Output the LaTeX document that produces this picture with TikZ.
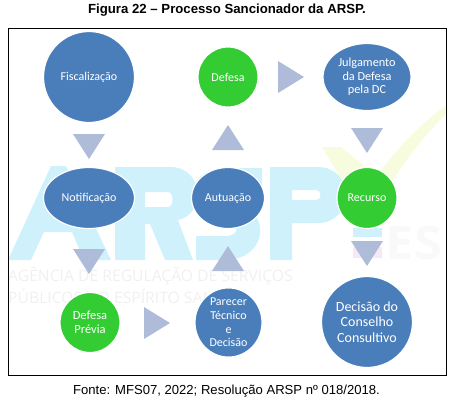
\documentclass[tikz,border=0pt]{standalone}
\usepackage{fontspec}
\setmainfont{Liberation Sans}
\newfontfamily\lbl{Carlito}
\definecolor{nodeblue}{HTML}{4A7EBB}
\definecolor{nodegreen}{HTML}{33CC33}
\definecolor{tri}{HTML}{AEBCDA}
\definecolor{wblue}{HTML}{CFF1FC}
\definecolor{wgrey}{HTML}{F0F0F0}
\definecolor{wyel}{HTML}{F8FCDF}
\definecolor{wpink}{HTML}{F8E8F5}
\definecolor{wes}{HTML}{F9F9F9}
\tikzset{
 bub/.style={ellipse,draw=white,line width=1.2pt,text=white,align=center,inner sep=0pt,font=\lbl\fontsize{12}{13.5}\selectfont},
 bluebub/.style={bub,fill=nodeblue},
 greenbub/.style={bub,fill=nodegreen},
 arrowtri/.style={fill=tri,draw=none},
 wm/.style={fill=wblue,draw=none},
 wmtext/.style={text=wgrey,font=\sffamily\fontsize{15.7}{16}\selectfont,inner sep=0pt,anchor=west}
}
\usetikzlibrary{shapes.geometric}
\setsansfont{Open Sans}
\begin{document}
\begin{tikzpicture}[x=1pt,y=-1pt]
\useasboundingbox (0,0) rectangle (458,408);
\begin{scope}
\clip (7.5,27.5) rectangle (446,375);
% check mark
\fill[wyel] (322,147) -- (341,147) -- (377,176) .. controls (395,150) and (420,125) .. (446,105) -- (446,114) .. controls (425,135) and (400,165) .. (385,195) -- (345,185) -- cycle;
% A
\path[wm] (8,260) -- (51,166) -- (66,166) -- (111,260) -- (84,260) -- (72,232) -- (44,232) -- (31,260) -- cycle;
% R
\path[wm,even odd rule] (115,167) -- (170,167) .. controls (205,167) and (205,215) .. (178,220) -- (193,260) -- (165,260) -- (150,224) -- (145,224) -- (145,260) -- (115,260) -- cycle
 (145,192) -- (145,207) -- (168,207) .. controls (174,207) and (174,192) .. (168,192) -- cycle;
% S
\draw[wblue,line width=24pt] (262,180) -- (225,180) .. controls (196,180) and (196,213) .. (225,213) .. controls (256,213) and (256,248) .. (225,248) -- (196,248);
% P
\path[wm,even odd rule] (270,167) -- (318,167) .. controls (355,167) and (355,223) .. (318,223) -- (292,223) -- (292,260) -- (270,260) -- cycle
 (292,190) -- (292,200) -- (316,200) .. controls (322,200) and (322,190) .. (316,190) -- cycle;
\fill[wblue] (353,228) rectangle (382,237);
\fill[wpink] (353,247) rectangle (382,258);
\node[text=wes,font=\sffamily\bfseries\fontsize{46}{46}\selectfont,inner sep=0pt] (es) at (414,243) {\scalebox{1.1}[1]{ES}};
\node[wmtext] (wa) at (8,276) {AGÊNCIA DE REGULAÇÃO DE SERVIÇOS};
\node[wmtext] (wb) at (8,296) {PÚBLICOS DO ESPÍRITO SANTO};
\end{scope}
% triangles
\path[arrowtri] (73,134) -- (105,134) -- (89,159) -- cycle;
\path[arrowtri] (73,249) -- (105,249) -- (89,274) -- cycle;
\path[arrowtri] (212,150) -- (244,150) -- (228,125) -- cycle;
\path[arrowtri] (212,271) -- (244,271) -- (228,246) -- cycle;
\path[arrowtri] (278,61) -- (278,93) -- (304,77) -- cycle;
\path[arrowtri] (144,307) -- (144,339) -- (170,323) -- cycle;
\path[arrowtri] (351,128) -- (383,128) -- (367,153) -- cycle;
\path[arrowtri] (351,241) -- (383,241) -- (367,266) -- cycle;
% nodes
\node[bluebub,minimum width=91,minimum height=91] (fisc) at (89,77) {Fiscalização};
\node[greenbub,minimum width=60,minimum height=60] (def) at (228,77) {Defesa};
\node[bluebub,minimum width=88,minimum height=67,font=\lbl\fontsize{12.3}{13.7}\selectfont] (julg) at (367,77) {Julgamento\\da Defesa\\pela DC};
\node[bluebub,minimum width=91,minimum height=61] (not) at (89,198) {Notificação};
\node[bluebub,minimum width=73,minimum height=61] (aut) at (228,198) {Autuação};
\node[greenbub,minimum width=60,minimum height=61] (rec) at (367,198) {Recurso};
\node[greenbub,minimum width=60,minimum height=60,font=\lbl\fontsize{12.5}{13.7}\selectfont] (prev) at (90,322.5) {Defesa\\Prévia};
\node[bluebub,minimum width=67,minimum height=65,font=\lbl\fontsize{12}{13.7}\selectfont] (par) at (228.5,322.5) {Parecer\\Técnico\\e\\Decisão};
\node[bluebub,minimum width=91,minimum height=91,font=\lbl\fontsize{14}{15.5}\selectfont] (cons) at (367,322) {Decisão do\\Conselho\\Consultivo};
% frame and captions
\node[draw=black,line width=0.8pt,minimum width=438.5,minimum height=347.5,inner sep=0pt,anchor=north west] (frame) at (7.5,27.5) {};
\node[font=\bfseries\fontsize{13.2}{14}\selectfont,inner sep=0pt] (title) at (227,10.5) {Figura 22 – Processo Sancionador da ARSP.};
\node[font=\fontsize{13.1}{14}\selectfont,inner sep=0pt] (src) at (226.5,391) {Fonte: MFS07, 2022; Resolução ARSP nº 018/2018.};
\end{tikzpicture}
\end{document}
